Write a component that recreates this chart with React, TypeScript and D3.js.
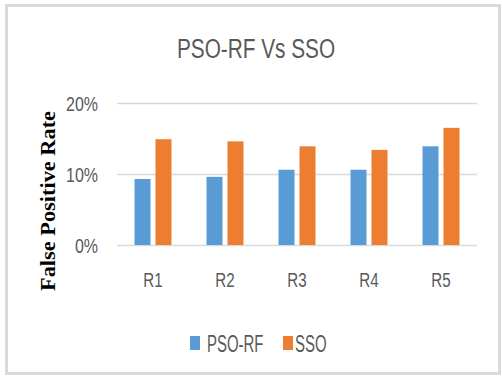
import React, { useEffect, useRef } from 'react'
import * as d3 from 'd3'

const categories = ['R1', 'R2', 'R3', 'R4', 'R5']
const psoRf = [0.093, 0.096, 0.106, 0.106, 0.139]
const sso = [0.149, 0.146, 0.139, 0.134, 0.165]
const seriesNames = ['PSO-RF', 'SSO']
const seriesColors = ['#5B9BD5', '#ED7D31']
const yTicks = [0, 0.1, 0.2]

const FONT = "'Liberation Sans', Arial, sans-serif"

// the reference uses a tall, narrow face; squeeze text horizontally
const squeezed = (sel: any, x: number, y: number, sx: number) =>
  sel.attr('transform', `translate(${x},${y}) scale(${sx},1)`)

export default function App() {
  const svgRef = useRef<SVGSVGElement>(null)
  const width = 502
  const height = 380
  const margin = { top: 103, right: 25, bottom: 135, left: 117 }

  useEffect(() => {
    const svg = d3.select(svgRef.current)
    svg.selectAll('*').remove()

    // chart frame
    svg.append('rect')
      .attr('x', 6.5).attr('y', 5.5)
      .attr('width', 493).attr('height', 368)
      .attr('fill', '#fff')
      .attr('stroke', '#d9d9d9')
      .attr('stroke-width', 3)

    const x = d3.scaleBand()
      .domain(categories)
      .range([margin.left, width - margin.right])

    const y = d3.scaleLinear()
      .domain([0, 0.2])
      .range([height - margin.bottom, margin.top])

    const fmt = d3.format('.0%')

    // gridlines + tick labels
    const grid = svg.append('g')
    grid.selectAll('line')
      .data(yTicks)
      .enter()
      .append('line')
      .attr('x1', margin.left)
      .attr('x2', width - margin.right)
      .attr('y1', d => Math.round(y(d)) + 0.5)
      .attr('y2', d => Math.round(y(d)) + 0.5)
      .attr('stroke', '#d9d9d9')
      .attr('stroke-width', 1.5)

    yTicks.forEach(t => {
      squeezed(grid.append('text'), 98, y(t) + 8, 0.82)
        .attr('text-anchor', 'end')
        .attr('font-family', FONT)
        .attr('font-size', 19.5)
        .attr('fill', '#595959')
        .text(fmt(t))
    })

    // bars
    const barW = 16
    const gap = 5
    const series = [psoRf, sso]
    series.forEach((vals, si) => {
      svg.append('g')
        .selectAll('rect')
        .data(vals)
        .enter()
        .append('rect')
        .attr('x', (d, i) => x(categories[i])! + x.bandwidth() / 2 + (si === 0 ? -barW - gap / 2 : gap / 2))
        .attr('y', d => y(d))
        .attr('width', barW)
        .attr('height', d => y(0) - y(d))
        .attr('fill', seriesColors[si])
    })

    // category labels
    const cats = svg.append('g')
    categories.forEach(c => {
      squeezed(cats.append('text'), x(c)! + x.bandwidth() / 2, 287, 0.72)
        .attr('text-anchor', 'middle')
        .attr('font-family', FONT)
        .attr('font-size', 21)
        .attr('fill', '#595959')
        .text(c)
    })

    // title
    squeezed(svg.append('text'), 256, 58, 0.77)
      .attr('text-anchor', 'middle')
      .attr('font-family', FONT)
      .attr('font-size', 27)
      .attr('fill', '#595959')
      .text('PSO-RF Vs SSO')

    // y axis title
    svg.append('text')
      .attr('transform', 'translate(55,201) rotate(-90)')
      .attr('text-anchor', 'middle')
      .attr('font-family', "'Liberation Serif', 'Times New Roman', serif")
      .attr('font-weight', 'bold')
      .attr('font-size', 22)
      .attr('textLength', 180)
      .attr('lengthAdjust', 'spacingAndGlyphs')
      .attr('fill', '#000')
      .text('False Positive Rate')

    // legend
    const legendX = [190, 283]
    const legend = svg.append('g')
    seriesNames.forEach((name, i) => {
      legend.append('rect')
        .attr('x', legendX[i]).attr('y', 336)
        .attr('width', 10).attr('height', 14)
        .attr('fill', seriesColors[i])
      squeezed(legend.append('text'), legendX[i] + (i === 0 ? 17 : 12), 352, 0.65)
        .attr('font-family', FONT)
        .attr('font-size', 23)
        .attr('fill', '#595959')
        .text(name)
    })
  }, [])

  return (
    <svg
      ref={svgRef}
      width={width}
      height={height}
      style={{ position: 'absolute', left: 0, top: 0, display: 'block' }}
    />
  )
}
